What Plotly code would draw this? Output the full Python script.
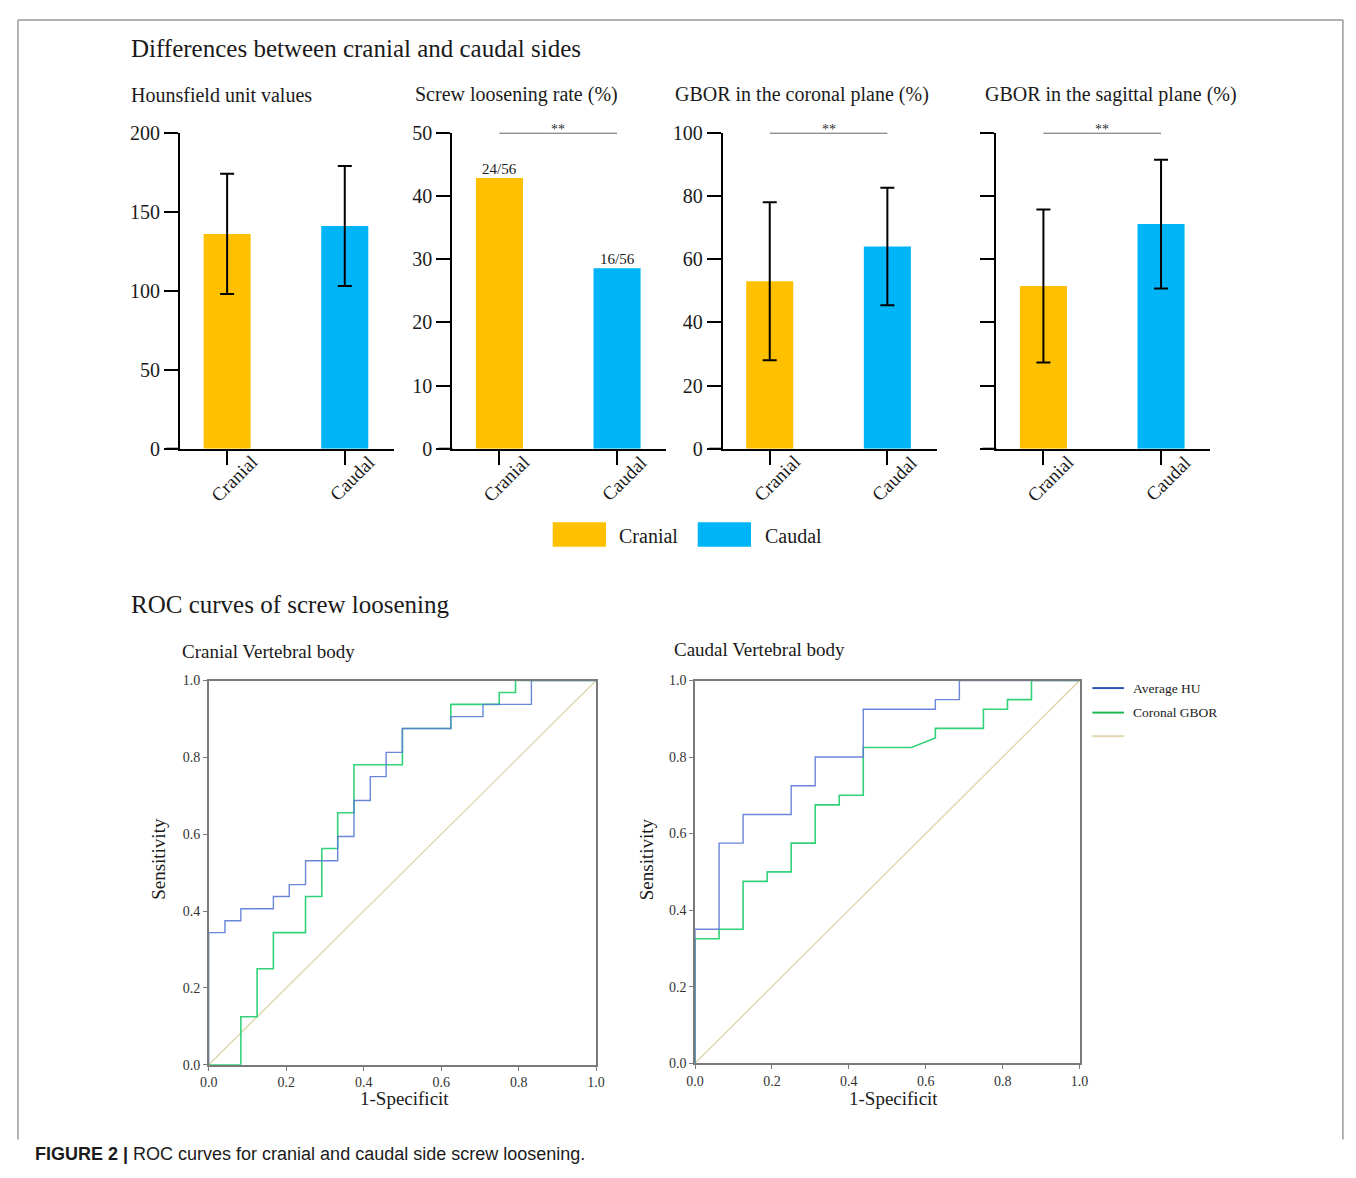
import plotly.graph_objects as go

# ---------------- data ----------------
categories = ["Cranial", "Caudal"]

hu_mean = [136, 141]
hu_sd = [38, 38]

loosening_rate = [42.86, 28.57]
loosening_labels = ["24/56", "16/56"]

gbor_coronal_mean = [53, 64]
gbor_coronal_sd = [25, 18.6]

gbor_sagittal_mean = [51.5, 71.1]
gbor_sagittal_sd = [24.2, 20.4]

panel_titles = ["Hounsfield unit values", "Screw loosening rate (%)",
                "GBOR in the coronal plane (%)", "GBOR in the sagittal plane (%)"]
panel_ymax = [200, 50, 100, 100]
panel_ytick_step = [50, 10, 20, 20]

roc_series = ["Average HU", "Coronal GBOR"]

# Cranial vertebral body ROC (1-specificity, sensitivity)
cranial_hu_fpr = [0, 0, 0.042, 0.042, 0.083, 0.083, 0.167, 0.167, 0.208, 0.208, 0.25, 0.25,
                  0.333, 0.333, 0.375, 0.375, 0.417, 0.417, 0.458, 0.458, 0.5, 0.5,
                  0.625, 0.625, 0.708, 0.708, 0.833, 0.833, 1]
cranial_hu_tpr = [0, 0.344, 0.344, 0.375, 0.375, 0.406, 0.406, 0.438, 0.438, 0.469, 0.469, 0.531,
                  0.531, 0.594, 0.594, 0.688, 0.688, 0.75, 0.75, 0.813, 0.813, 0.875,
                  0.875, 0.906, 0.906, 0.938, 0.938, 1, 1]
cranial_gbor_fpr = [0, 0.083, 0.083, 0.125, 0.125, 0.167, 0.167, 0.25, 0.25, 0.292, 0.292,
                    0.333, 0.333, 0.375, 0.375, 0.5, 0.5, 0.625, 0.625, 0.75, 0.75,
                    0.792, 0.792, 1]
cranial_gbor_tpr = [0, 0, 0.125, 0.125, 0.25, 0.25, 0.344, 0.344, 0.438, 0.438, 0.563,
                    0.563, 0.656, 0.656, 0.781, 0.781, 0.875, 0.875, 0.938, 0.938, 0.969,
                    0.969, 1, 1]

# Caudal vertebral body ROC
caudal_hu_fpr = [0, 0, 0.0625, 0.0625, 0.125, 0.125, 0.25, 0.25, 0.3125, 0.3125,
                 0.4375, 0.4375, 0.625, 0.625, 0.6875, 0.6875, 1]
caudal_hu_tpr = [0, 0.35, 0.35, 0.575, 0.575, 0.65, 0.65, 0.725, 0.725, 0.8,
                 0.8, 0.925, 0.925, 0.95, 0.95, 1, 1]
caudal_gbor_fpr = [0, 0, 0.0625, 0.0625, 0.125, 0.125, 0.1875, 0.1875, 0.25, 0.25,
                   0.3125, 0.3125, 0.375, 0.375, 0.4375, 0.4375, 0.5625, 0.625, 0.625,
                   0.75, 0.75, 0.8125, 0.8125, 0.875, 0.875, 1]
caudal_gbor_tpr = [0, 0.325, 0.325, 0.35, 0.35, 0.475, 0.475, 0.5, 0.5, 0.575,
                   0.575, 0.675, 0.675, 0.7, 0.7, 0.825, 0.825, 0.85, 0.875,
                   0.875, 0.925, 0.925, 0.95, 0.95, 1, 1]
diag = [0, 1]

# ---------------- styling ----------------
PAGE_MARGIN = 8           # default body margin of the html page
W, H = 1356 - 2 * PAGE_MARGIN, 1178 - 2 * PAGE_MARGIN
SERIF = "Liberation Serif, Times New Roman, serif"
SANS = "Liberation Sans, Arial, sans-serif"
ORANGE = "#FFC000"
BLUE = "#00B4F8"
bar_colors = [ORANGE, BLUE]
ROC_BLUE = "#5B7AD4"
ROC_GREEN = "#33D27A"
LEG_BLUE = "#2F52B5"
LEG_GREEN = "#1DB64E"
DIAG = "#E2D9B3"
AX_GRAY = "#7a7a7a"
TXT = "#1a1a1a"


def fx(px):
    """page pixel x -> paper coordinate"""
    return (px - PAGE_MARGIN) / W


def fy(py):
    """page pixel y -> paper coordinate"""
    return 1 - (py - PAGE_MARGIN) / H


fig = go.Figure()

# ---------- bar panels ----------
panel_axis_x = [173.3, 449.3, 723.3, 1000.7]
panel_width = 217
bar_top, bar_bot = 124, 446

bar_values = [hu_mean, loosening_rate, gbor_coronal_mean, gbor_sagittal_mean]
bar_errors = [hu_sd, None, gbor_coronal_sd, gbor_sagittal_sd]

shapes = []
annotations = []

for i in range(4):
    n = i + 1
    xa = "x" if n == 1 else f"x{n}"
    ya = "y" if n == 1 else f"y{n}"
    err = None
    if bar_errors[i] is not None:
        err = dict(type="data", array=bar_errors[i], visible=True, color="black",
                   thickness=2, width=7)
    fig.add_trace(go.Bar(
        x=categories, y=bar_values[i], width=0.4, marker=dict(color=bar_colors, line=dict(width=0)),
        error_y=err, xaxis=xa, yaxis=ya, showlegend=False, hoverinfo="x+y"))

    ax0 = panel_axis_x[i]
    xkey = "xaxis" if n == 1 else f"xaxis{n}"
    ykey = "yaxis" if n == 1 else f"yaxis{n}"
    fig.update_layout(**{
        xkey: dict(domain=[fx(ax0), fx(ax0 + panel_width)], anchor=ya, type="category",
                   range=[-0.4, 1.42], showline=True, linecolor="black", linewidth=2,
                   ticks="outside", ticklen=14, tickwidth=2, tickcolor="black",
                   showticklabels=False,
                   showgrid=False, zeroline=False, fixedrange=True),
        ykey: dict(domain=[fy(bar_bot), fy(bar_top)], anchor=xa,
                   range=[0, panel_ymax[i]],
                   tickvals=list(range(0, panel_ymax[i] + 1, panel_ytick_step[i])),
                   showline=True, linecolor="black", linewidth=2,
                   ticks="outside", ticklen=14, tickwidth=2, tickcolor="black",
                   showticklabels=(i != 3),
                   tickfont=dict(family=SERIF, size=20, color=TXT),
                   showgrid=False, zeroline=False, fixedrange=True),
    })
    # rotated category labels
    for c in categories:
        annotations.append(dict(text=c, xref=xa, yref="paper", x=c, y=fy(476),
                                xanchor="center", yanchor="middle", xshift=7,
                                textangle=-45, showarrow=False,
                                font=dict(family=SERIF, size=19, color=TXT)))
    # extend x-axis line to the left under the y ticks
    shapes.append(dict(type="line", xref="paper", yref="paper",
                       x0=fx(ax0 - 14), x1=fx(ax0), y0=fy(bar_bot), y1=fy(bar_bot),
                       line=dict(color="black", width=2)))
    # panel title
    annotations.append(dict(text=panel_titles[i], xref="paper", yref="paper",
                            x=fx([122, 409, 673, 987][i]), y=fy(85), xanchor="left",
                            yanchor="middle", showarrow=False,
                            font=dict(family=SERIF, size=20, color=TXT)))
    # significance bars
    if i > 0:
        shapes.append(dict(type="line", xref=xa, yref=ya, x0=0, x1=1,
                           y0=panel_ymax[i], y1=panel_ymax[i],
                           line=dict(color="#222222", width=1.2)))
        annotations.append(dict(text="**", xref=xa, yref=ya, x=0.5, y=panel_ymax[i],
                                xanchor="center", yanchor="bottom", yshift=-6, showarrow=False,
                                font=dict(family=SERIF, size=14, color="#333333")))

# count labels on loosening panel
for c, v, lab in zip(categories, loosening_rate, loosening_labels):
    annotations.append(dict(text=lab, xref="x2", yref="y2", x=c, y=v, xanchor="center",
                            yanchor="bottom", yshift=-1, showarrow=False,
                            font=dict(family=SERIF, size=15, color=TXT)))

# bar legend
leg_boxes = [(551, 605), (698, 752)]
leg_text_x = [616, 764]
for (x0, x1), tx, col, cat in zip(leg_boxes, leg_text_x, bar_colors, categories):
    shapes.append(dict(type="rect", xref="paper", yref="paper", x0=fx(x0), x1=fx(x1),
                       y0=fy(546), y1=fy(521), fillcolor=col, line=dict(width=0)))
    annotations.append(dict(text=cat, xref="paper", yref="paper", x=fx(tx), y=fy(535),
                            xanchor="left", yanchor="middle", showarrow=False,
                            font=dict(family=SERIF, size=20, color=TXT)))

# ---------- ROC panels ----------
roc_panels = [
    dict(n=5, x0=202.3, x1=595, ytop=682.3, ybot=1074,
         hu=(cranial_hu_fpr, cranial_hu_tpr), gb=(cranial_gbor_fpr, cranial_gbor_tpr),
         title="Cranial Vertebral body", tx=173, ty=653, sens=(152, 864), spec=(401, 1108)),
    dict(n=6, x0=695.3, x1=1085, ytop=682.3, ybot=1072.3,
         hu=(caudal_hu_fpr, caudal_hu_tpr), gb=(caudal_gbor_fpr, caudal_gbor_tpr),
         title="Caudal Vertebral body", tx=672, ty=651, sens=(646, 864), spec=(896, 1108)),
]
for p in roc_panels:
    n = p["n"]
    xa, ya = f"x{n}", f"y{n}"
    fig.add_trace(go.Scatter(x=diag, y=diag, mode="lines", line=dict(color=DIAG, width=1.5),
                             xaxis=xa, yaxis=ya, showlegend=False, hoverinfo="skip"))
    fig.add_trace(go.Scatter(x=p["gb"][0], y=p["gb"][1], mode="lines", name=roc_series[1],
                             line=dict(color=ROC_GREEN, width=1.6), xaxis=xa, yaxis=ya,
                             showlegend=False))
    fig.add_trace(go.Scatter(x=p["hu"][0], y=p["hu"][1], mode="lines", name=roc_series[0],
                             line=dict(color=ROC_BLUE, width=1.4), opacity=0.9,
                             xaxis=xa, yaxis=ya, showlegend=False))
    common = dict(range=[0, 1], tickvals=[0, 0.2, 0.4, 0.6, 0.8, 1.0], tickformat=".1f",
                  showline=True, mirror=True, linecolor=AX_GRAY, linewidth=1.5,
                  ticks="outside", ticklen=4, tickwidth=1.2, tickcolor=AX_GRAY,
                  tickfont=dict(family=SERIF, size=14, color="#333333"),
                  showgrid=False, zeroline=False, fixedrange=True)
    fig.update_layout(**{
        f"xaxis{n}": dict(domain=[fx(p["x0"]), fx(p["x1"])], anchor=ya, **common),
        f"yaxis{n}": dict(domain=[fy(p["ybot"]), fy(p["ytop"])], anchor=xa, **common),
    })
    annotations.append(dict(text=p["title"], xref="paper", yref="paper", x=fx(p["tx"]),
                            y=fy(p["ty"]), xanchor="left", yanchor="middle", showarrow=False,
                            font=dict(family=SERIF, size=19, color=TXT)))
    annotations.append(dict(text="Sensitivity", xref="paper", yref="paper", x=fx(p["sens"][0]),
                            y=fy(p["sens"][1]), xanchor="center", yanchor="middle",
                            textangle=-90, showarrow=False,
                            font=dict(family=SERIF, size=19, color=TXT)))
    annotations.append(dict(text="1-Specificit", xref="paper", yref="paper", x=fx(p["spec"][0]),
                            y=fy(p["spec"][1]), xanchor="center", yanchor="middle",
                            showarrow=False, font=dict(family=SERIF, size=19, color=TXT)))

# ROC legend
leg_items = [(roc_series[0], LEG_BLUE, 690), (roc_series[1], LEG_GREEN, 715), ("", DIAG, 739)]
for name, col, yy in leg_items:
    shapes.append(dict(type="line", xref="paper", yref="paper", x0=fx(1098), x1=fx(1130),
                       y0=fy(yy), y1=fy(yy), line=dict(color=col, width=2)))
    if name:
        annotations.append(dict(text=name, xref="paper", yref="paper", x=fx(1137), y=fy(yy),
                                xanchor="left", yanchor="middle", showarrow=False,
                                font=dict(family=SERIF, size=13.5, color="#222222")))

# section titles
annotations.append(dict(text="Differences between cranial and caudal sides", xref="paper",
                        yref="paper", x=fx(122), y=fy(38), xanchor="left", yanchor="middle",
                        showarrow=False, font=dict(family=SERIF, size=25, color=TXT)))
annotations.append(dict(text="ROC curves of screw loosening", xref="paper",
                        yref="paper", x=fx(122), y=fy(605), xanchor="left", yanchor="middle",
                        showarrow=False, font=dict(family=SERIF, size=25, color=TXT)))

# caption
annotations.append(dict(text="<b>FIGURE 2 |</b> ROC curves for cranial and caudal side screw loosening.",
                        xref="paper", yref="paper", x=fx(24), y=fy(1165), xanchor="left",
                        yanchor="middle", showarrow=False,
                        font=dict(family=SANS, size=18, color=TXT)))

# outer frame
frame_col = "#9a9a9a"
shapes.append(dict(type="line", xref="paper", yref="paper", x0=fx(9), x1=fx(1352),
                   y0=fy(9), y1=fy(9), line=dict(color=frame_col, width=1.5)))
shapes.append(dict(type="line", xref="paper", yref="paper", x0=fx(9), x1=fx(9),
                   y0=fy(9), y1=fy(1150), line=dict(color=frame_col, width=1.5)))
shapes.append(dict(type="line", xref="paper", yref="paper", x0=fx(1352), x1=fx(1352),
                   y0=fy(9), y1=fy(1150), line=dict(color=frame_col, width=1.5)))

fig.update_layout(
    width=W, height=H, margin=dict(l=0, r=0, t=0, b=0),
    paper_bgcolor="white", plot_bgcolor="white",
    shapes=shapes, annotations=annotations, showlegend=False,
    font=dict(family=SERIF, color=TXT),
)

fig.write_html("out.html", config={"displayModeBar": False})
